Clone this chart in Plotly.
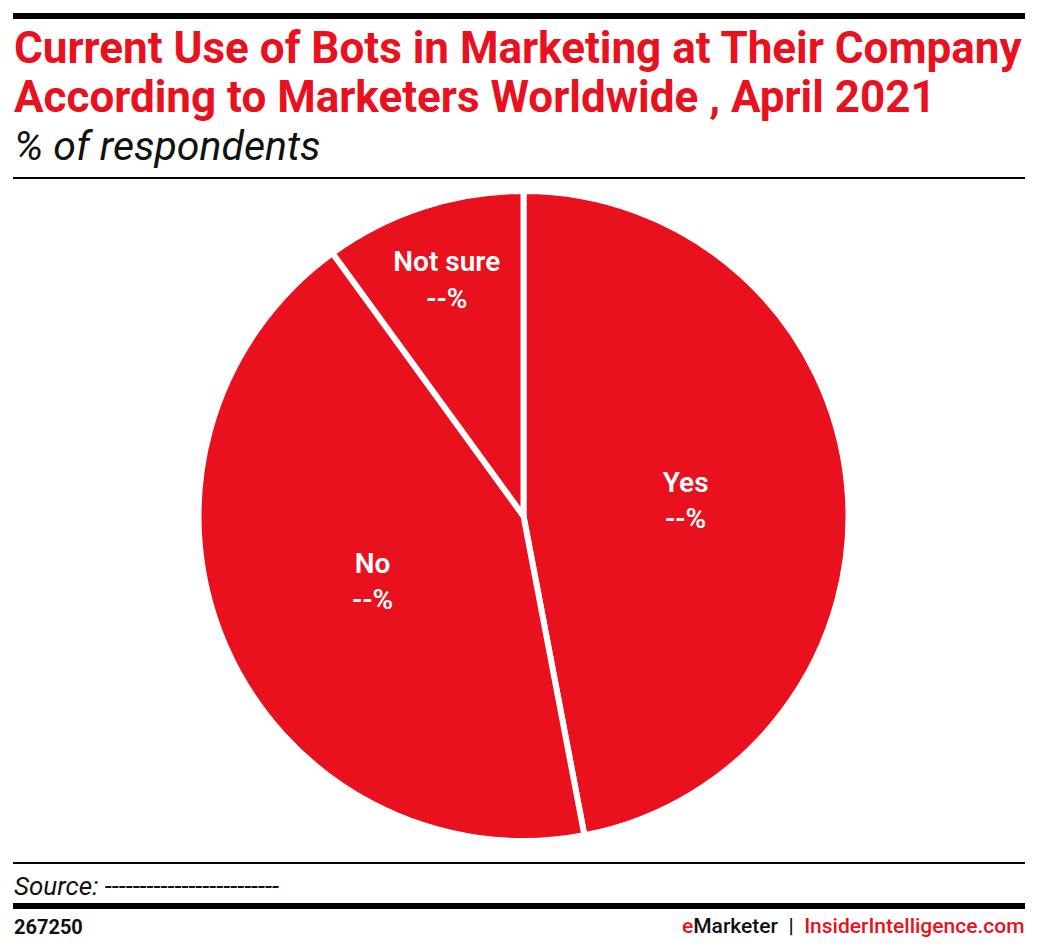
import plotly.graph_objects as go

labels = ["Yes", "No", "Not sure"]
values = [47, 43, 10]
display_text = ["--%", "--%", "--%"]

RED = "#E8111D"
W, H = 1038, 951

def py(y):
    return 1 - y / H

def px(x):
    return x / W

fig = go.Figure()
fig.add_trace(go.Pie(
    labels=labels,
    values=values,
    text=display_text,
    sort=False,
    direction="clockwise",
    rotation=0,
    marker=dict(colors=[RED] * 3, line=dict(color="white", width=6)),
    texttemplate="%{label}<br>%{text}",
    textposition="inside",
    insidetextorientation="horizontal",
    textfont=dict(family="Roboto", size=28, color="white", weight=600),
    hoverinfo="label+percent",
    domain=dict(x=[px(198), px(849)], y=[py(841), py(191)]),
    showlegend=False,
))

annotations = [
    dict(text="<b>Current Use of Bots in Marketing at Their Company</b>", x=px(12), y=py(48),
         font=dict(family="Roboto", size=44, color=RED), xanchor="left", yanchor="middle"),
    dict(text="<b>According to Marketers Worldwide , April 2021</b>", x=px(12), y=py(97),
         font=dict(family="Roboto", size=44, color=RED), xanchor="left", yanchor="middle"),
    dict(text="<i>% of respondents</i>", x=px(12), y=py(146),
         font=dict(family="Roboto", size=41, color="#111", weight=400), xanchor="left", yanchor="middle"),
    dict(text="<i>Source: -------------------------</i>", x=px(12), y=py(886),
         font=dict(family="Roboto", size=26, color="#111", weight=400), xanchor="left", yanchor="middle"),
    dict(text="<b>267250</b>", x=px(12), y=py(926.5),
         font=dict(family="Roboto", size=20, color="#111"), xanchor="left", yanchor="middle"),
    dict(text=f"<span style='color:{RED}'>e</span>Marketer  |  <span style='color:{RED}'>InsiderIntelligence.com</span>",
         x=px(1026), y=py(925.5),
         font=dict(family="Roboto", size=21, color="#111", weight=500), xanchor="right", yanchor="middle"),
]
for a in annotations:
    a.update(xref="paper", yref="paper", showarrow=False)

shapes = [
    dict(type="line", x0=px(13), x1=px(1025), y0=py(16), y1=py(16), line=dict(color="black", width=6)),
    dict(type="line", x0=px(13), x1=px(1025), y0=py(178), y1=py(178), line=dict(color="black", width=2)),
    dict(type="line", x0=px(13), x1=px(1025), y0=py(863), y1=py(863), line=dict(color="black", width=2)),
    dict(type="line", x0=px(13), x1=px(1025), y0=py(906), y1=py(906), line=dict(color="black", width=6)),
]
for s in shapes:
    s.update(xref="paper", yref="paper")

fig.update_layout(
    width=W, height=H,
    margin=dict(l=0, r=0, t=0, b=0),
    paper_bgcolor="white",
    plot_bgcolor="white",
    annotations=annotations,
    shapes=shapes,
    uniformtext=dict(minsize=28, mode="show"),
)

fig.write_html("out.html", config={"displayModeBar": False},
               post_script="document.body.style.margin='0';")
